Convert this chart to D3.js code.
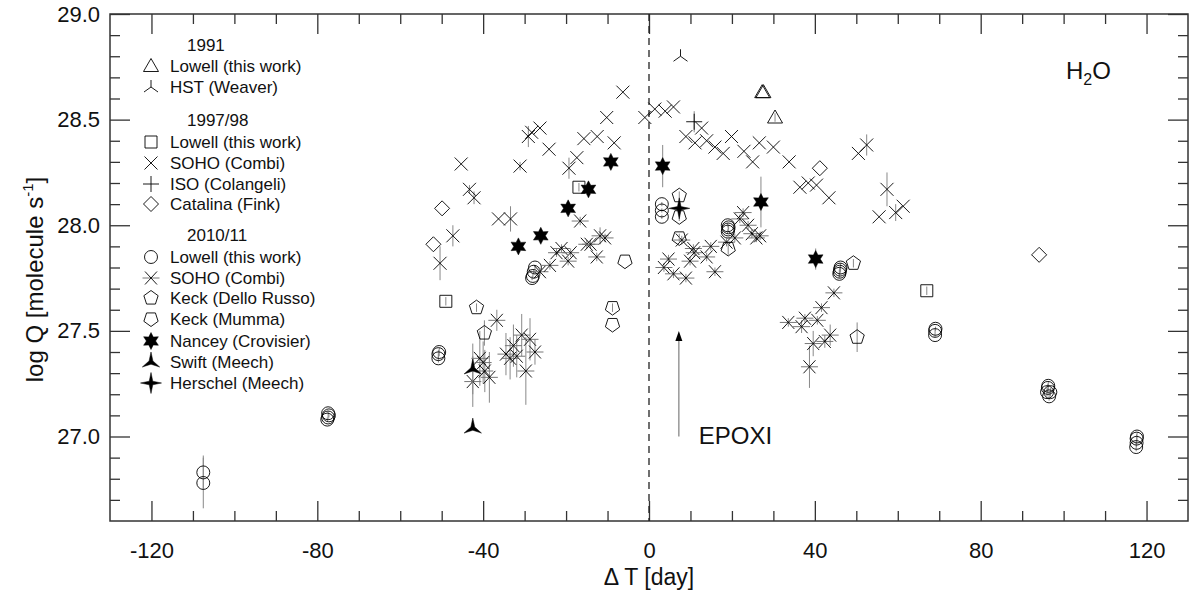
<!DOCTYPE html>
<html>
<head>
<meta charset="utf-8">
<script src="https://d3js.org/d3.v7.min.js"></script>
<style>
  body { margin: 0; background: #fff; }
  svg { font-family: "Liberation Sans", Arial, Helvetica, sans-serif; }
</style>
</head>
<body>
<div id="chart"></div>
<script>
// [day, logQ, err]
const lowell1991 = [[27.3, 28.63, 0], [27.6, 28.63, 0], [30.4, 28.51, 0.02]];
const hstWeaver = [[7.6, 28.80, 0]];

const lowell1997 = [[-16.9, 28.18, 0.02], [-49.0, 27.64, 0.02], [67.0, 27.69, 0.02]];
const soho1997 = [
  [-50.4, 27.82, 0.08], [-47.3, 27.95, 0.05], [-45.3, 28.29, 0], [-43.3, 28.17, 0.02], [-42.2, 28.13, 0.03],
  [-36.3, 28.03, 0], [-33.4, 28.03, 0.06], [-31.1, 28.28, 0.02], [-29.1, 28.42, 0.05], [-28.3, 28.44, 0],
  [-26.3, 28.46, 0], [-24.1, 28.36, 0], [-19.3, 28.27, 0.05], [-17.4, 28.32, 0], [-15.7, 28.41, 0],
  [-12.5, 28.42, 0], [-10.2, 28.51, 0], [-8.4, 28.39, 0], [-6.3, 28.63, 0], [-1.0, 28.51, 0],
  [1.4, 28.55, 0], [3.9, 28.54, 0], [5.9, 28.56, 0], [8.9, 28.42, 0], [11.1, 28.39, 0],
  [12.7, 28.46, 0], [13.9, 28.40, 0], [15.9, 28.37, 0], [17.9, 28.34, 0], [19.9, 28.42, 0],
  [22.9, 28.35, 0], [25.0, 28.30, 0], [26.6, 28.39, 0], [30.0, 28.37, 0], [33.8, 28.30, 0],
  [36.4, 28.18, 0], [38.4, 28.20, 0], [40.4, 28.19, 0], [43.4, 28.13, 0], [50.5, 28.34, 0],
  [52.5, 28.38, 0.05], [55.5, 28.04, 0], [57.4, 28.17, 0.08], [59.5, 28.06, 0.04], [61.3, 28.09, 0]
];
const isoColangeli = [[10.9, 28.49, 0.05]];
const catalinaFink = [[-49.9, 28.08, 0], [-52.0, 27.91, 0], [41.2, 28.27, 0], [94.1, 27.86, 0]];

const lowell2010 = [
  [-107.5, 26.83, 0.08], [-107.5, 26.78, 0.12],
  [-77.6, 27.08, 0.01], [-77.4, 27.09, 0.01], [-77.2, 27.10, 0.01], [-77.4, 27.11, 0.01],
  [-50.8, 27.37, 0.02], [-50.8, 27.39, 0.02], [-50.6, 27.40, 0.02],
  [-28.2, 27.75, 0.01], [-28.0, 27.76, 0.01], [-27.8, 27.78, 0.01], [-27.5, 27.80, 0.01],
  [3.1, 28.04, 0.01], [3.1, 28.07, 0.01], [3.1, 28.10, 0.01],
  [19.0, 27.97, 0.01], [19.1, 27.98, 0.01], [19.2, 27.99, 0.01], [19.0, 28.00, 0.01],
  [45.9, 27.77, 0.02], [46.0, 27.78, 0.02], [46.1, 27.79, 0.02], [46.2, 27.80, 0.02],
  [69.0, 27.48, 0.01], [69.0, 27.50, 0.01], [69.1, 27.51, 0.01],
  [96.0, 27.21, 0.02], [96.5, 27.19, 0.02], [96.2, 27.23, 0.02], [96.8, 27.21, 0.02], [96.3, 27.24, 0.02],
  [117.5, 26.95, 0.02], [117.6, 26.97, 0.02], [117.6, 26.99, 0.02], [117.7, 27.00, 0.02]
];
const soho2010 = [
  [-42.5, 27.26, 0.12], [-40.8, 27.37, 0.13], [-40.0, 27.35, 0.1], [-39.6, 27.31, 0.1], [-38.5, 27.28, 0.12],
  [-36.7, 27.55, 0.05], [-34.5, 27.39, 0.1], [-33.5, 27.37, 0.1], [-32.7, 27.43, 0.1], [-31.9, 27.38, 0.1],
  [-30.7, 27.48, 0.1], [-29.7, 27.31, 0.16], [-28.7, 27.46, 0.1], [-27.5, 27.40, 0.06],
  [-26.3, 27.78, 0.02], [-23.9, 27.81, 0.02], [-22.3, 27.87, 0.02], [-21.1, 27.89, 0.02], [-19.5, 27.83, 0.02],
  [-18.9, 27.87, 0.02], [-16.6, 28.02, 0.02], [-15.0, 27.91, 0.02], [-14.1, 27.91, 0.02], [-12.6, 27.85, 0.02],
  [-11.8, 27.95, 0.04], [-10.6, 27.94, 0.02],
  [3.6, 27.80, 0.02], [4.7, 27.84, 0.02], [5.9, 27.77, 0.02], [7.9, 27.93, 0.02], [8.9, 27.75, 0.02],
  [9.9, 27.83, 0.02], [10.7, 27.89, 0.02], [10.9, 27.87, 0.02], [13.9, 27.85, 0.02], [14.9, 27.90, 0.02],
  [15.9, 27.78, 0.02], [18.7, 27.92, 0.02], [20.7, 27.94, 0.02], [21.9, 28.03, 0.02], [22.7, 28.06, 0.02],
  [23.9, 28.00, 0.02], [24.8, 27.96, 0.02], [25.9, 27.94, 0.02], [26.8, 27.95, 0.02],
  [33.6, 27.54, 0.02], [36.8, 27.52, 0.03], [37.6, 27.56, 0.02], [38.7, 27.33, 0.1], [39.6, 27.44, 0.06],
  [40.6, 27.55, 0.02], [41.6, 27.61, 0.02], [42.4, 27.45, 0.03], [43.7, 27.48, 0.05], [44.6, 27.68, 0.02]
];
const keckDelloRusso = [[-41.6, 27.61, 0.02], [-39.7, 27.49, 0.06], [7.3, 28.14, 0.02], [49.3, 27.82, 0.02], [50.2, 27.47, 0.07]];
const keckMumma = [[-5.8, 27.83, 0], [-8.8, 27.61, 0.02], [-8.8, 27.53, 0], [7.3, 28.04, 0.02], [7.3, 27.94, 0.02], [19.1, 27.89, 0.03]];
const nancey = [
  [-31.5, 27.90, 0.03], [-26.1, 27.95, 0.03], [-19.5, 28.08, 0.03], [-14.6, 28.17, 0.03], [-9.2, 28.30, 0.03],
  [3.3, 28.28, 0.1], [27.0, 28.11, 0.12], [40.2, 27.84, 0.05]
];
const swiftMeech = [[-42.5, 27.32, 0.12], [-42.5, 27.04, 0]];
const herschelMeech = [[7.3, 28.08, 0.03]];

const epoxi = { day: 7.2, from: 27.0, to: 27.50 };

const xMajor = [-120, -80, -40, 0, 40, 80, 120];
const yMajor = [27.0, 27.5, 28.0, 28.5, 29.0];

const W = 1190, H = 595;
const M = { left: 110, right: 1188, top: 14, bottom: 521 };

const svg = d3.select('#chart').append('svg')
  .attr('width', W)
  .attr('height', H);

const x = d3.scaleLinear().domain([-130, 130]).range([M.left, M.right]);
const y = d3.scaleLinear().domain([26.6, 29.0]).range([M.bottom, M.top]);

// symbol path builders
function poly(n, r, rot) {
  const pts = d3.range(n).map(i => {
    const a = rot + i * 2 * Math.PI / n;
    return [r * Math.sin(a), -r * Math.cos(a)];
  });
  return 'M' + pts.map(p => p.join(',')).join('L') + 'Z';
}
function star(n, ro, ri, rot) {
  const pts = d3.range(2 * n).map(i => {
    const r = i % 2 ? ri : ro;
    const a = rot + i * Math.PI / n;
    return [r * Math.sin(a), -r * Math.cos(a)];
  });
  return 'M' + pts.map(p => p.join(',')).join('L') + 'Z';
}
const shapes = {
  triangle: { d: 'M0,-7.5L7.5,5.5L-7.5,5.5Z', fill: 'none' },
  tripod: { d: 'M0,0L0,-7M0,0L-7,5M0,0L7,5', fill: 'none' },
  square: { d: 'M-6,-6H6V6H-6Z', fill: 'none' },
  cross: { d: 'M-6.5,-6.5L6.5,6.5M-6.5,6.5L6.5,-6.5', fill: 'none' },
  plus: { d: 'M-8,0H8M0,-8V8', fill: 'none' },
  diamond: { d: 'M0,-7.5L7.5,0L0,7.5L-7.5,0Z', fill: 'none' },
  circle: { d: d3.symbol(d3.symbolCircle, Math.PI * 42)(), fill: 'none' },
  asterisk: { d: 'M-6,-6.5L6,6.5M-6,6.5L6,-6.5', extra: 'M-8.5,0H8.5', fill: 'none' },
  pentUp: { d: poly(5, 7.5, 0), fill: 'none' },
  pentDown: { d: poly(5, 7.5, Math.PI), fill: 'none' },
  star6: { d: star(6, 8.5, 4.6, 0), fill: '#000' },
  star3: { d: star(3, 10, 2.2, 0), fill: '#000' },
  star4: { d: star(4, 10.5, 2.5, 0), fill: '#000' }
};

// frame
svg.append('rect')
  .attr('x', M.left).attr('y', M.top)
  .attr('width', M.right - M.left).attr('height', M.bottom - M.top)
  .attr('fill', 'none').attr('stroke', '#333').attr('stroke-width', 1.5);

// ticks (inward), major + minor on all four sides
function drawAxis(axisFn, scale, ticks, size, fmt, pad, transform) {
  const a = axisFn(scale).tickValues(ticks).tickSizeInner(-size).tickSizeOuter(0).tickPadding(pad);
  a.tickFormat(fmt || (() => ''));
  const g = svg.append('g').attr('transform', transform).call(a);
  g.select('.domain').remove();
  g.selectAll('line').attr('stroke', '#333').attr('stroke-width', 1.3);
  g.selectAll('text').attr('font-size', 22).attr('fill', '#111')
    .attr('font-family', '"Liberation Sans", Arial, sans-serif');
  return g;
}
const xMinor = d3.range(-120, 130, 10).filter(v => !xMajor.includes(v));
const yMinor = d3.range(26.7, 29.0, 0.1).map(v => +v.toFixed(1)).filter(v => !yMajor.includes(v));

drawAxis(d3.axisBottom, x, xMajor, 20, d => String(d), 21, `translate(0,${M.bottom})`);
drawAxis(d3.axisBottom, x, xMinor, 10, null, 0, `translate(0,${M.bottom})`);
drawAxis(d3.axisTop, x, xMajor, 20, null, 0, `translate(0,${M.top})`);
drawAxis(d3.axisTop, x, xMinor, 10, null, 0, `translate(0,${M.top})`);
drawAxis(d3.axisLeft, y, yMajor, 20, d3.format('.1f'), 10, `translate(${M.left},0)`);
drawAxis(d3.axisLeft, y, yMinor, 10, null, 0, `translate(${M.left},0)`);
drawAxis(d3.axisRight, y, yMajor, 20, null, 0, `translate(${M.right},0)`);
drawAxis(d3.axisRight, y, yMinor, 10, null, 0, `translate(${M.right},0)`);

// axis titles
svg.append('text')
  .attr('x', x(0)).attr('y', 585)
  .attr('text-anchor', 'middle').attr('font-size', 23).attr('fill', '#111')
  .text('\u0394 T [day]');

const yl = svg.append('text')
  .attr('transform', `translate(43,${(M.top + M.bottom) / 2 + 12}) rotate(-90)`)
  .attr('text-anchor', 'middle').attr('font-size', 24).attr('fill', '#111');
yl.append('tspan').text('log Q [molecule s');
yl.append('tspan').attr('font-size', 15).attr('dy', -10).text('-1');
yl.append('tspan').attr('dy', 10).text(']');

// zero line
svg.append('line')
  .attr('x1', x(0)).attr('x2', x(0))
  .attr('y1', M.top).attr('y2', M.bottom)
  .attr('stroke', '#222').attr('stroke-width', 1.3)
  .attr('stroke-dasharray', '7,5');

// H2O label
const h2o = svg.append('text').attr('x', 1066).attr('y', 79)
  .attr('font-size', 24).attr('fill', '#111');
h2o.append('tspan').text('H');
h2o.append('tspan').attr('font-size', 16).attr('dy', 6).text('2');
h2o.append('tspan').attr('dy', -6).text('O');

// EPOXI arrow
svg.append('line')
  .attr('x1', x(epoxi.day)).attr('x2', x(epoxi.day))
  .attr('y1', y(epoxi.from)).attr('y2', y(epoxi.to) + 8)
  .attr('stroke', '#888').attr('stroke-width', 1.3);
svg.append('path')
  .attr('transform', `translate(${x(epoxi.day)},${y(epoxi.to)})`)
  .attr('d', 'M0,0L3.5,10L-3.5,10Z').attr('fill', '#000');
svg.append('text')
  .attr('x', x(epoxi.day) + 20).attr('y', 444)
  .attr('font-size', 24).attr('fill', '#111').text('EPOXI');

// series
const plotG = svg.append('g');
function drawSeries(data, shapeKey) {
  const s = shapes[shapeKey];
  const g = plotG.append('g');
  g.selectAll('line.err').data(data.filter(d => d[2] > 0)).join('line')
    .attr('class', 'err')
    .attr('x1', d => x(d[0])).attr('x2', d => x(d[0]))
    .attr('y1', d => y(d[1] - d[2])).attr('y2', d => y(d[1] + d[2]))
    .attr('stroke', '#888').attr('stroke-width', 1);
  const sym = g.selectAll('g.sym').data(data).join('g')
    .attr('class', 'sym')
    .attr('transform', d => `translate(${x(d[0])},${y(d[1])})`);
  if (s.extra) {
    sym.append('path').attr('d', s.extra).attr('fill', 'none')
      .attr('stroke', '#777').attr('stroke-width', 1);
  }
  sym.append('path').attr('d', s.d)
    .attr('fill', s.fill)
    .attr('stroke', '#000')
    .attr('stroke-width', s.fill === 'none' ? 0.9 : 0.5);
}
drawSeries(lowell2010, 'circle');
drawSeries(soho2010, 'asterisk');
drawSeries(soho1997, 'cross');
drawSeries(isoColangeli, 'plus');
drawSeries(catalinaFink, 'diamond');
drawSeries(lowell1997, 'square');
drawSeries(lowell1991, 'triangle');
drawSeries(hstWeaver, 'tripod');
drawSeries(keckDelloRusso, 'pentUp');
drawSeries(keckMumma, 'pentDown');
drawSeries(nancey, 'star6');
drawSeries(swiftMeech, 'star3');
drawSeries(herschelMeech, 'star4');

// legend
const legendRows = [
  { head: '1991', y: 51 },
  { shape: 'triangle', label: 'Lowell (this work)', y: 72 },
  { shape: 'tripod', label: 'HST (Weaver)', y: 93 },
  { head: '1997/98', y: 126 },
  { shape: 'square', label: 'Lowell (this work)', y: 148 },
  { shape: 'cross', label: 'SOHO (Combi)', y: 169 },
  { shape: 'plus', label: 'ISO (Colangeli)', y: 190 },
  { shape: 'diamond', label: 'Catalina (Fink)', y: 210 },
  { head: '2010/11', y: 241 },
  { shape: 'circle', label: 'Lowell (this work)', y: 263 },
  { shape: 'asterisk', label: 'SOHO (Combi)', y: 284 },
  { shape: 'pentUp', label: 'Keck (Dello Russo)', y: 304 },
  { shape: 'pentDown', label: 'Keck (Mumma)', y: 325 },
  { shape: 'star6', label: 'Nancey (Crovisier)', y: 347 },
  { shape: 'star3', label: 'Swift (Meech)', y: 368 },
  { shape: 'star4', label: 'Herschel (Meech)', y: 389 }
];
const lg = svg.append('g');
legendRows.forEach(r => {
  if (r.head) {
    lg.append('text').attr('x', 187).attr('y', r.y)
      .attr('font-size', 17).attr('fill', '#111').text(r.head);
    return;
  }
  const s = shapes[r.shape];
  const g = lg.append('g').attr('transform', `translate(151,${r.y - 6})`);
  if (s.extra) g.append('path').attr('d', s.extra).attr('fill', 'none').attr('stroke', '#777');
  g.append('path').attr('d', s.d).attr('fill', s.fill).attr('stroke', '#000')
    .attr('stroke-width', s.fill === 'none' ? 0.9 : 0.5);
  lg.append('text').attr('x', 170).attr('y', r.y)
    .attr('font-size', 17).attr('fill', '#111').text(r.label);
});
</script>
</body>
</html>
